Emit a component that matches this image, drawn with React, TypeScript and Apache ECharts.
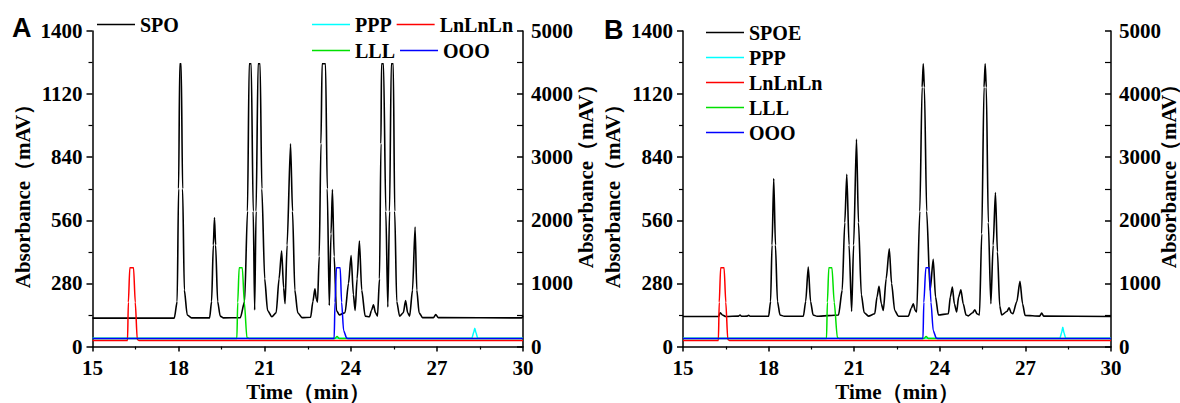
import React, { useEffect, useRef } from "react";
import * as echarts from "echarts";

// Time axis
const timeTicks = [15, 18, 21, 24, 27, 30];
// Left axis (mAV) ticks: 0..1400 step 280; right axis 0..5000 step 1000
const leftTicks = [0, 280, 560, 840, 1120, 1400];
const rightTicks = [0, 1000, 2000, 3000, 4000, 5000];

// Panel A: sample trace (SPO), left axis, [time(min), mAV]
const spoA: number[][] = [
  [15, 126], [17.85, 126], [17.95, 200], [18.0, 700], [18.04, 1255], [18.09, 1255], [18.14, 700], [18.2, 250],
  [18.3, 140], [18.45, 127], [19.08, 127], [19.15, 200], [19.21, 450], [19.25, 572], [19.29, 450], [19.36, 200],
  [19.45, 135], [19.55, 127], [20.15, 128], [20.3, 200], [20.4, 600], [20.46, 1255], [20.53, 1255], [20.6, 600],
  [20.65, 162], [20.7, 600], [20.77, 1255], [20.84, 1255], [20.9, 700], [21.0, 300], [21.1, 160], [21.25, 132],
  [21.4, 150], [21.5, 300], [21.59, 424], [21.66, 260], [21.71, 190], [21.78, 450], [21.9, 900], [21.97, 600],
  [22.05, 250], [22.15, 150], [22.3, 128], [22.6, 130], [22.68, 200], [22.75, 256], [22.8, 210], [22.84, 197],
  [22.9, 400], [22.96, 900], [23.0, 1255], [23.12, 1255], [23.18, 700], [23.25, 182], [23.31, 500], [23.36, 696],
  [23.42, 400], [23.5, 160], [23.6, 140], [23.8, 150], [23.92, 280], [24.01, 404], [24.09, 230], [24.15, 160],
  [24.22, 300], [24.3, 468], [24.38, 250], [24.5, 135], [24.65, 132], [24.72, 160], [24.79, 185], [24.86, 150],
  [24.93, 135], [25.0, 300], [25.05, 900], [25.07, 1255], [25.14, 1255], [25.22, 600], [25.29, 175], [25.35, 600],
  [25.41, 1255], [25.48, 1255], [25.53, 600], [25.6, 200], [25.7, 135], [25.83, 150], [25.91, 204], [25.98, 150],
  [26.05, 135], [26.15, 250], [26.24, 530], [26.3, 250], [26.38, 150], [26.5, 128], [26.88, 128], [26.96, 142],
  [27.05, 128], [29.95, 127], [30, 135],
];

// Panel B: sample trace (SPOE), left axis
const spoeB: number[][] = [
  [15, 133], [16.25, 133], [16.3, 150], [16.38, 140], [16.5, 133], [16.95, 135], [17.0, 140], [17.05, 134],
  [17.25, 135], [17.3, 139], [17.35, 134], [18.0, 134], [18.07, 200], [18.12, 450], [18.18, 745], [18.24, 450],
  [18.31, 200], [18.4, 140], [18.55, 134], [19.22, 135], [19.3, 200], [19.39, 352], [19.47, 200], [19.56, 140],
  [19.7, 134], [20.45, 140], [20.58, 250], [20.67, 550], [20.74, 764], [20.82, 450], [20.91, 156], [20.98, 450],
  [21.08, 920], [21.15, 550], [21.25, 230], [21.35, 150], [21.5, 135], [21.72, 145], [21.8, 220], [21.87, 267],
  [21.95, 190], [22.02, 160], [22.12, 300], [22.23, 434], [22.31, 280], [22.42, 160], [22.55, 134], [22.9, 135],
  [23.0, 170], [23.07, 190], [23.14, 160], [23.19, 153], [23.3, 600], [23.38, 1150], [23.42, 1255], [23.46, 1150],
  [23.54, 600], [23.66, 249], [23.77, 387], [23.85, 220], [23.95, 140], [24.3, 145], [24.37, 220], [24.44, 264],
  [24.51, 190], [24.59, 153], [24.66, 220], [24.74, 252], [24.82, 190], [24.92, 140], [25.0, 136], [25.15, 150],
  [25.23, 163], [25.3, 145], [25.39, 140], [25.47, 500], [25.55, 1150], [25.59, 1255], [25.63, 1150], [25.7, 550],
  [25.79, 190], [25.87, 450], [25.95, 683], [26.02, 420], [26.1, 180], [26.17, 140], [26.35, 155], [26.43, 172],
  [26.5, 150], [26.56, 145], [26.7, 200], [26.81, 289], [26.9, 190], [26.99, 138], [27.5, 135], [27.57, 148],
  [27.64, 135], [30, 133],
];

// Standards (right axis, mAV)
const pppA: number[][] = [[15, 132], [28.22, 132], [28.28, 220], [28.32, 290], [28.36, 220], [28.42, 132], [30, 132]];
const pppB: number[][] = [[15, 132], [28.21, 132], [28.27, 220], [28.31, 307], [28.35, 220], [28.41, 132], [30, 132]];
const lnlnlnA: number[][] = [[15, 96], [16.22, 96], [16.25, 700], [16.3, 1250], [16.43, 1250], [16.49, 700], [16.56, 110], [16.62, 96], [30, 96]];
const lnlnlnB: number[][] = [[15, 96], [16.24, 96], [16.27, 700], [16.32, 1250], [16.44, 1250], [16.5, 700], [16.57, 110], [16.63, 96], [30, 96]];
const lllA: number[][] = [[15, 128], [20.03, 128], [20.06, 700], [20.11, 1250], [20.22, 1250], [20.29, 700], [20.38, 140], [20.45, 128], [23.45, 128], [23.52, 160], [23.6, 128], [30, 128]];
const lllB: number[][] = [[15, 128], [20.03, 128], [20.06, 700], [20.11, 1250], [20.22, 1250], [20.3, 700], [20.41, 140], [20.48, 128], [23.45, 128], [23.52, 160], [23.6, 128], [30, 128]];
const oooA: number[][] = [[15, 125], [23.42, 125], [23.45, 700], [23.5, 1250], [23.63, 1250], [23.68, 700], [23.75, 250], [23.86, 130], [23.95, 125], [30, 125]];
const oooB: number[][] = [[15, 125], [23.41, 125], [23.44, 700], [23.51, 1250], [23.63, 1250], [23.69, 700], [23.77, 250], [23.88, 130], [23.97, 125], [30, 125]];

const yTitle = "Absorbance（mAV）";
const xTitle = "Time（min）";

export default function App() {
  const ref = useRef<HTMLDivElement>(null);
  useEffect(() => {
    document.body.style.margin = "0";
    if (!ref.current) return;
    const chart = echarts.init(ref.current, null, { renderer: "svg" });

    const grids = [
      { left: 92.5, right: 657, top: 31, bottom: 56.5, containLabel: false, outerBoundsMode: "none" },
      { left: 683, right: 69, top: 31, bottom: 56.5, containLabel: false, outerBoundsMode: "none" },
    ];
    const axisLineStyle = { color: "#000", width: 1.5 };
    const labelStyle = { color: "#000", fontFamily: "serif", fontWeight: "bold" as const, fontSize: 21 };
    const fmt = (v: number) => String(v);

    const xAxes = [0, 1].map((g) => ({
      type: "value",
      gridIndex: g,
      min: timeTicks[0],
      max: timeTicks[timeTicks.length - 1],
      interval: 3,
      axisLine: { show: true, onZero: false, lineStyle: axisLineStyle },
      axisTick: { show: true, length: 5, lineStyle: { color: "#000", width: 1.5 } },
      minorTick: { show: true, splitNumber: 2, length: 3, lineStyle: { color: "#000", width: 1.2 } },
      axisLabel: { ...labelStyle, margin: 11, lineHeight: 20, formatter: fmt },
      splitLine: { show: false },
    }));

    const yAxes: any[] = [];
    [0, 1].forEach((g) => {
      yAxes.push({
        type: "value",
        gridIndex: g,
        position: "left",
        min: leftTicks[0],
        max: leftTicks[leftTicks.length - 1],
        interval: 280,
        axisLine: { show: true, lineStyle: axisLineStyle },
        axisTick: { show: true, length: 6, lineStyle: { color: "#000", width: 1.5 } },
        minorTick: { show: true, splitNumber: 2, length: 4, lineStyle: { color: "#000", width: 1.2 } },
        axisLabel: { ...labelStyle, margin: 10, formatter: fmt },
        splitLine: { show: false },
      });
      yAxes.push({
        type: "value",
        gridIndex: g,
        position: "right",
        min: rightTicks[0],
        max: rightTicks[rightTicks.length - 1],
        interval: 1000,
        axisLine: { show: true, lineStyle: axisLineStyle },
        axisTick: { show: true, inside: true, length: 6, lineStyle: { color: "#000", width: 1.5 } },
        minorTick: { show: true, splitNumber: 2, length: 6, lineStyle: { color: "#000", width: 1.2 } },
        axisLabel: { ...labelStyle, margin: 8, formatter: fmt },
        splitLine: { show: false },
      });
    });

    const line = (name: string, data: number[][], color: string, xi: number, yi: number, w = 1.5) => ({
      type: "line",
      name,
      data,
      xAxisIndex: xi,
      yAxisIndex: yi,
      showSymbol: false,
      symbol: "none",
      smooth: 0.25,
      smoothMonotone: "x",
      lineStyle: { color, width: w },
      itemStyle: { color },
      emphasis: { disabled: true },
    });

    const series = [
      line("SPO", spoA, "#000000", 0, 0, 1.6),
      line("PPP", pppA, "#00FFFF", 0, 1),
      line("LnLnLn", lnlnlnA, "#FF0000", 0, 1),
      line("LLL", lllA, "#00E000", 0, 1),
      line("OOO", oooA, "#0000FF", 0, 1),
      line("SPOE", spoeB, "#000000", 1, 2, 1.6),
      line("PPP", pppB, "#00FFFF", 1, 3),
      line("LnLnLn", lnlnlnB, "#FF0000", 1, 3),
      line("LLL", lllB, "#00E000", 1, 3),
      line("OOO", oooB, "#0000FF", 1, 3),
    ];

    const legendText = { color: "#000", fontFamily: "serif", fontWeight: "bold" as const, fontSize: 20, lineHeight: 21 };
    const legendBase = {
      icon: "rect",
      itemWidth: 38,
      itemHeight: 1.5,
      textStyle: legendText,
      padding: 0,
      selectedMode: false,
    };

    const nameFont = "bold 21px serif";
    const vName = (x: number, y: number) => ({
      type: "text",
      x,
      y,
      rotation: Math.PI / 2,
      style: { text: yTitle, font: nameFont, fill: "#000", align: "center", verticalAlign: "middle" },
    });
    const hName = (x: number, y: number) => ({
      type: "text",
      x,
      y,
      style: { text: xTitle, font: nameFont, fill: "#000", align: "center", verticalAlign: "middle" },
    });

    chart.setOption({
      animation: false,
      backgroundColor: "#fff",
      grid: grids,
      xAxis: xAxes,
      yAxis: yAxes,
      series,
      legend: [
        { ...legendBase, data: ["SPO"], left: 97, top: 14, orient: "horizontal" },
        { ...legendBase, data: ["PPP", "LnLnLn", "LLL", "OOO"], left: 312, top: 14, width: 205, orient: "horizontal", itemGap: 5 },
        { ...legendBase, data: ["SPOE", "PPP", "LnLnLn", "LLL", "OOO"], left: 706, top: 22, orient: "vertical", itemGap: 4 },
      ],
      graphic: [
        { type: "text", left: 12, top: 14, style: { text: "A", font: "bold 27px Liberation Sans, Arial, sans-serif", fill: "#000" } },
        { type: "text", left: 604, top: 16, style: { text: "B", font: "bold 27px Liberation Sans, Arial, sans-serif", fill: "#000" } },
        vName(22.5, 191),
        vName(585.5, 171),
        vName(612.5, 191),
        vName(1169, 171),
        hName(308, 392),
        hName(897, 392),
      ],
    });
    return () => chart.dispose();
  }, []);
  return <div ref={ref} style={{ width: 1180, height: 403 }} />;
}
